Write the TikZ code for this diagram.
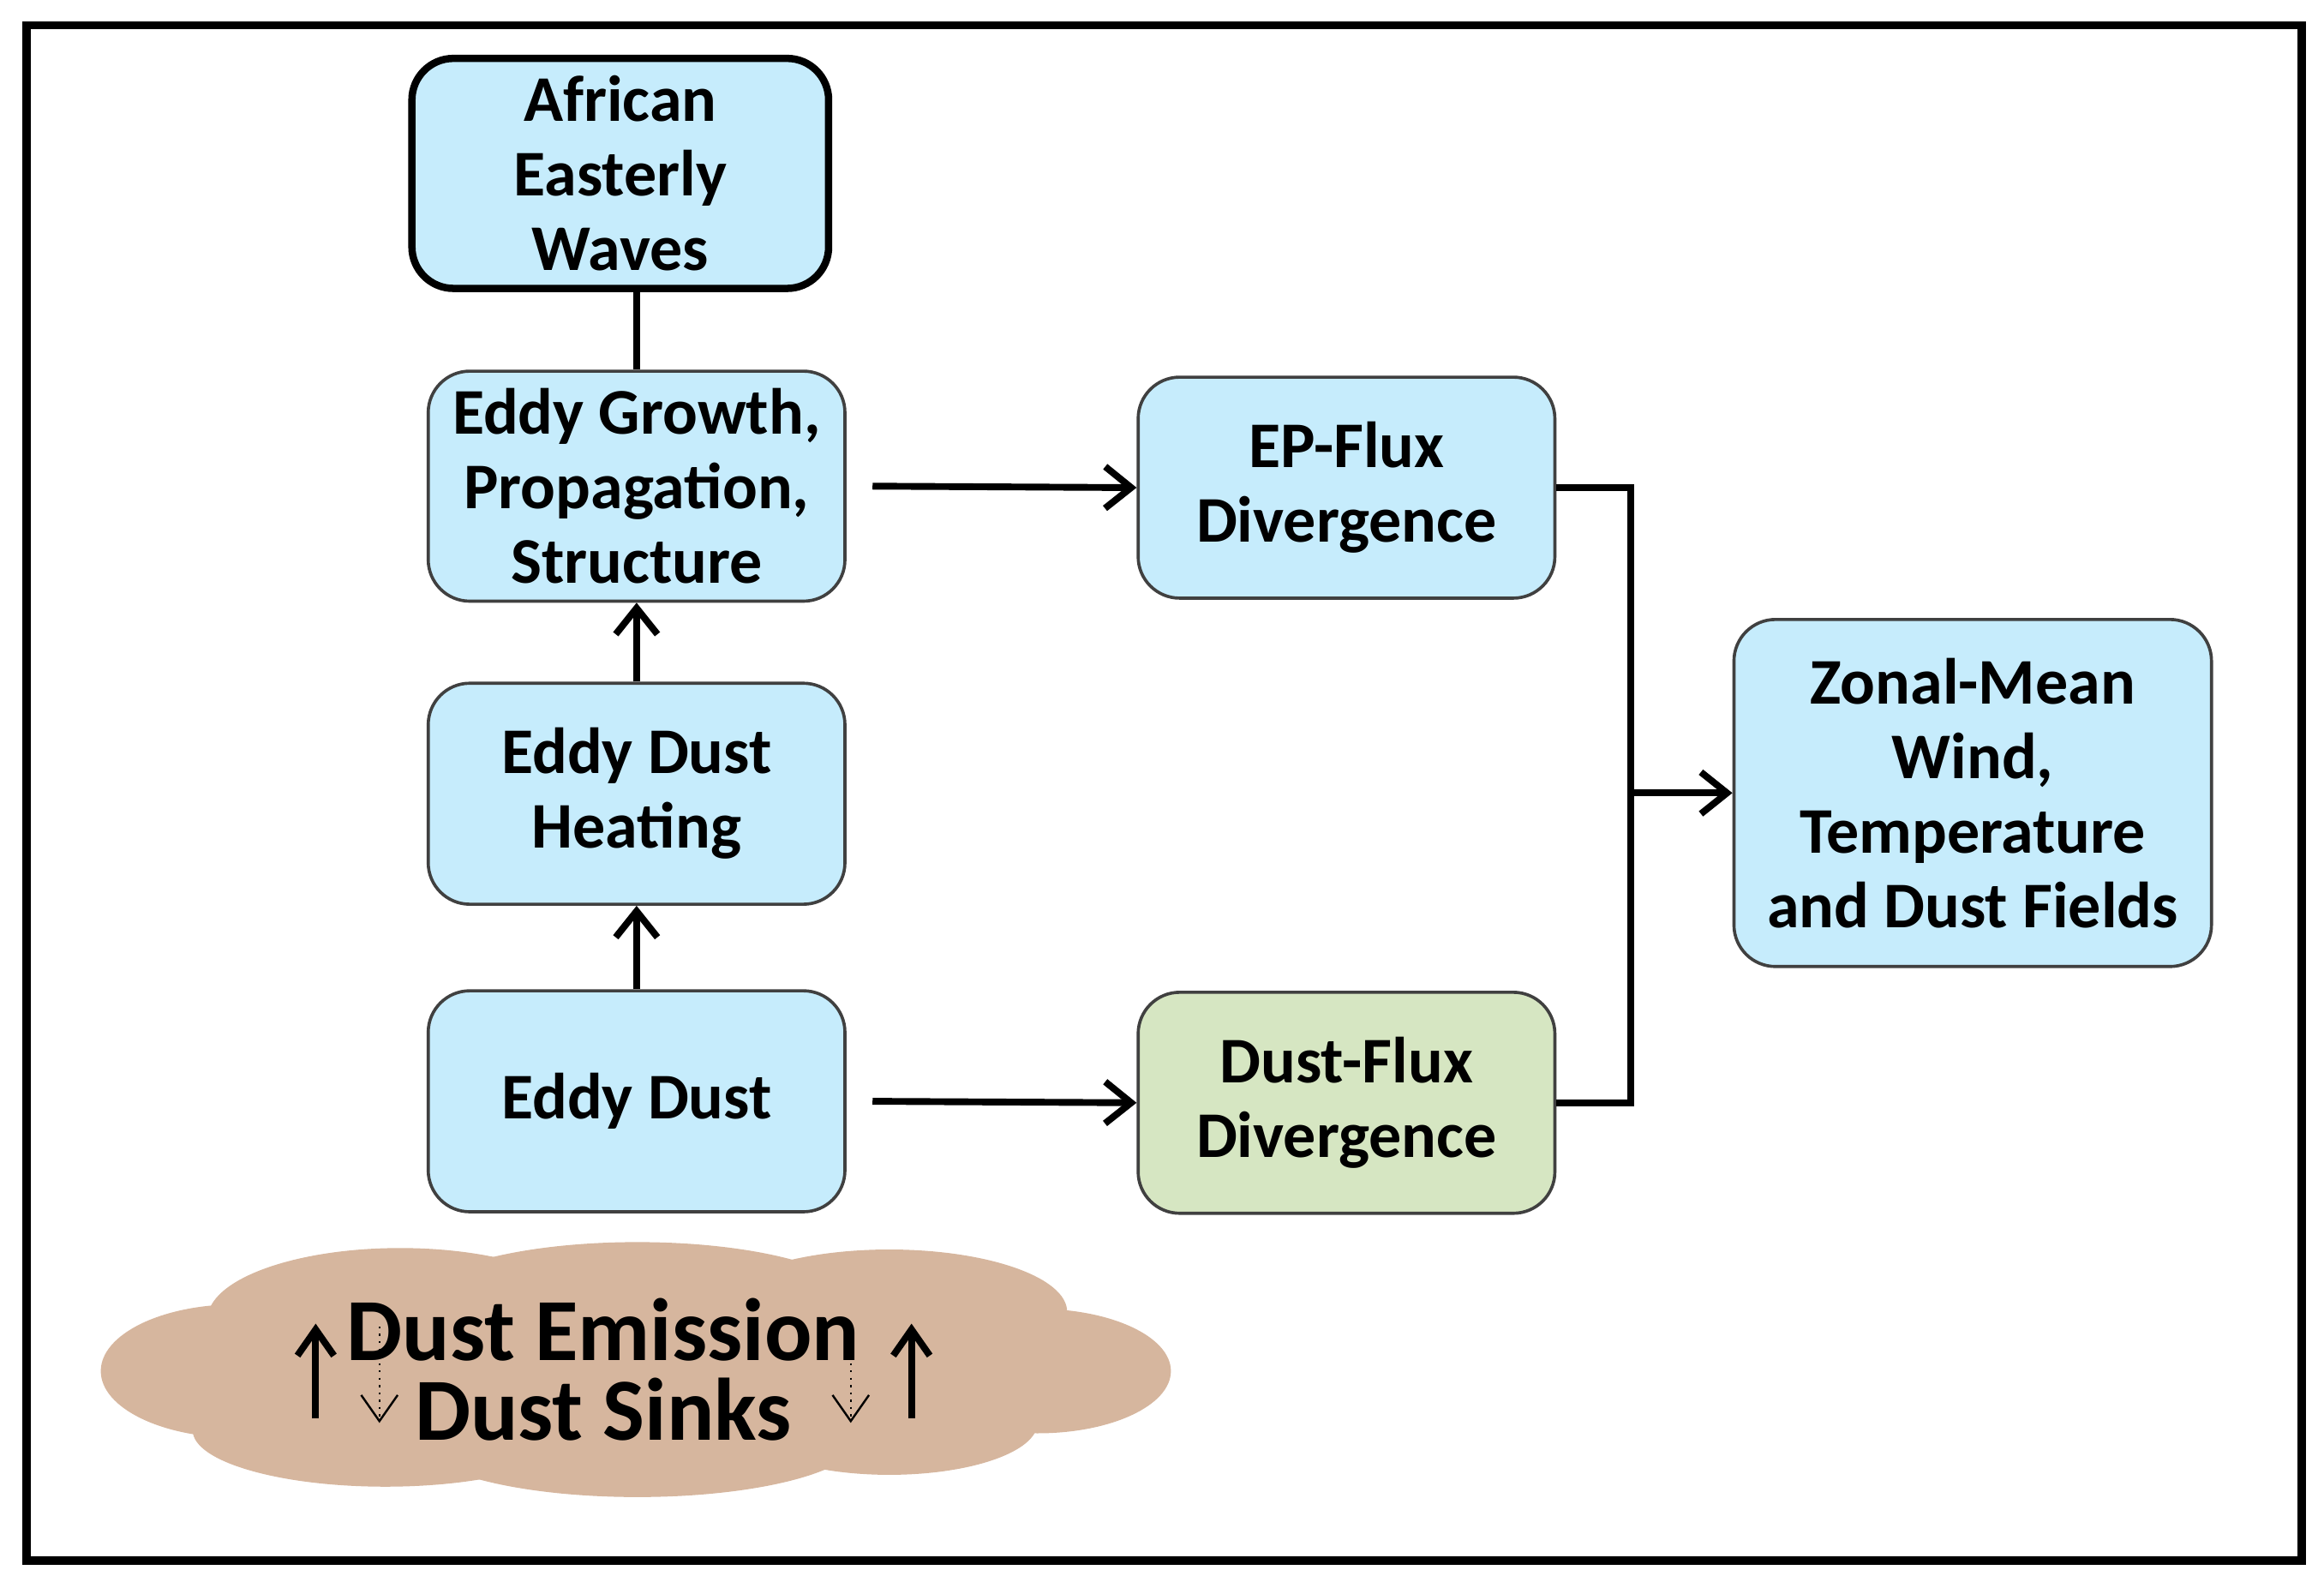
\documentclass[tikz,border=0pt]{standalone}
\usepackage{fontspec}
\setmainfont{Carlito}
\usetikzlibrary{arrows.meta}
\definecolor{boxblue}{HTML}{C6ECFC}
\definecolor{boxgreen}{HTML}{D6E6C2}
\definecolor{cloud}{HTML}{D6B69E}
\begin{document}
\begin{tikzpicture}[x=0.01cm,y=-0.01cm,
  box/.style={draw=black!75,line width=0.6pt,rounded corners=0.28cm,fill=boxblue,minimum width=2.81cm,minimum height=1.49cm,align=center,font=\fontsize{12.5}{14.3}\selectfont\bfseries},
  arr/.style={line width=1.3pt,-{Straight Barb[length=5pt,width=8pt]}},
  ln/.style={line width=1.3pt}]
\useasboundingbox (0,0) rectangle (1568,1067);
\draw[line width=1.6pt] (18,17) rectangle (1553,1053);
% cloud
\begin{scope}[fill=cloud]
\fill (160,925) ellipse (92 and 45);
\fill (270,890) ellipse (130 and 48);
\fill (430,880) ellipse (150 and 42);
\fill (600,885) ellipse (120 and 42);
\fill (700,925) ellipse (90 and 42);
\fill (600,960) ellipse (100 and 35);
\fill (430,970) ellipse (150 and 40);
\fill (260,965) ellipse (130 and 38);
\fill (420,925) ellipse (300 and 60);
\end{scope}
\node[font=\fontsize{17}{20}\selectfont\bfseries] (de) at (407,897) {Dust Emission};
\node[font=\fontsize{17}{20}\selectfont\bfseries] (ds) at (407,951) {Dust Sinks};
\coordinate (a1) at (213,957); \coordinate (a2) at (213,893);
\coordinate (b1) at (256,895); \coordinate (b2) at (256,960);
\coordinate (c1) at (574,895); \coordinate (c2) at (574,960);
\coordinate (d1) at (615,957); \coordinate (d2) at (615,893);
\draw[line width=1.3pt,-{Straight Barb[length=5pt,width=7pt]}] (a1)--(a2);
\draw[line width=1.3pt,-{Straight Barb[length=5pt,width=7pt]}] (d1)--(d2);
\draw[line width=0.4pt,densely dotted,-{Straight Barb[length=5pt,width=7pt]}] (b1)--(b2);
\draw[line width=0.4pt,densely dotted,-{Straight Barb[length=5pt,width=7pt]}] (c1)--(c2);
% boxes
\node[box,draw=black,line width=1.4pt] (aew) at (418.5,117) {African\\Easterly\\Waves};
\node[box] (grow) at (429.5,328) {Eddy Growth,\\Propagation,\\Structure};
\node[box] (heat) at (429.5,535.5) {Eddy Dust\\Heating};
\node[box] (ed) at (429.5,743) {Eddy Dust};
\node[box] (ep) at (908.5,329) {EP-Flux\\Divergence};
\node[box,fill=boxgreen] (df) at (908.5,744) {Dust-Flux\\Divergence};
\node[box,minimum width=3.22cm,minimum height=2.34cm] (zm) at (1331,535) {Zonal-Mean\\Wind,\\Temperature\\and Dust Fields};
% connectors
\draw[ln] (aew.south -| grow.north) -- (grow.north);
\draw[arr] (heat) -- (grow);
\draw[arr] (ed) -- (heat);
\draw[arr] ([xshift=5pt]grow.east) -- (ep.west);
\draw[arr] ([xshift=5pt]ed.east) -- (df.west);
\coordinate (j) at (1100,535);
\draw[ln] (ep.east) -- (1100,329) -- (1100,744) -- (df.east);
\draw[arr] (j) -- (zm.west);
\end{tikzpicture}
\end{document}
